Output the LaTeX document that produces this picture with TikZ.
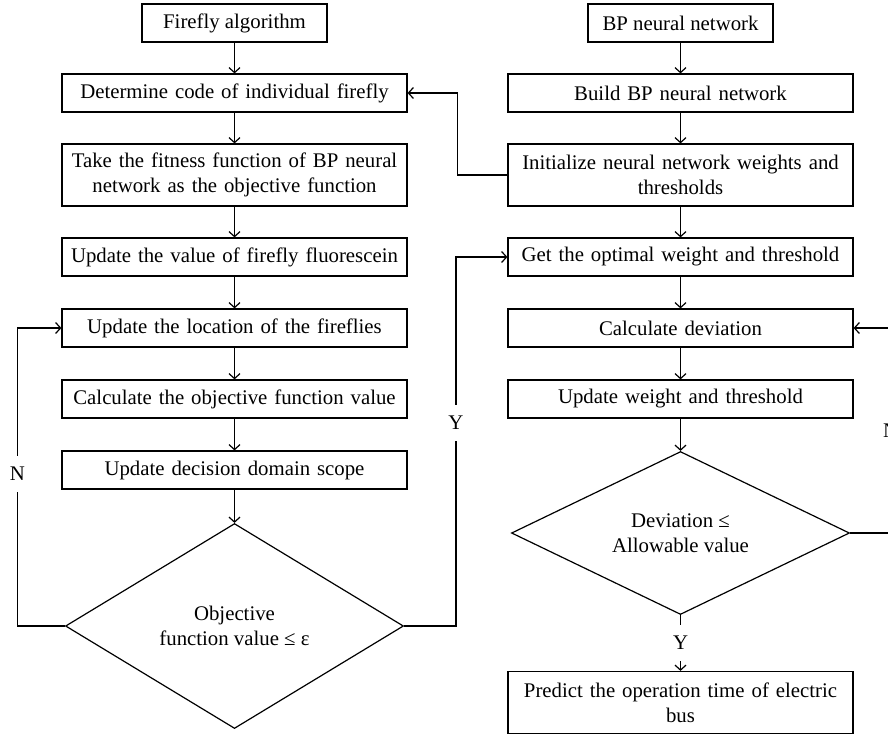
\documentclass[tikz,border=0pt]{standalone}
\usepackage{fontspec}
\setmainfont{Liberation Serif}
\usetikzlibrary{shapes.geometric,arrows.meta,positioning}
\begin{document}
\begin{tikzpicture}[x=0.5pt,y=-0.5pt,line width=0.6pt,font=\fontsize{10.4}{12.5}\selectfont,
	>={Straight Barb[length=2.5pt,width=5.5pt]}]
	\tikzstyle{rect1} = [rectangle,draw=black,minimum width=92.5pt,minimum height=19pt,
	inner sep=2pt,text centered]
	\tikzstyle{rect2} = [rectangle,draw=black,minimum width=172.5pt,minimum height=19pt,
	text width=168pt,inner xsep=2.25pt,inner ysep=3.25pt,text centered]
	\tikzstyle{dia} = [diamond,draw=black,aspect=1.65,inner sep=0pt,align=center,minimum width=169pt]
	\tikzstyle{lbl} = [fill=white,inner xsep=2pt,inner ysep=5.5pt]
	\useasboundingbox (0,0) rectangle (888,735);
	% firefly side
	\node (ff1) [rect1] at (234.5,23) {Firefly algorithm};
	\node (ff2) [rect2, below of=ff1, node distance=35pt] {Determine code of individual firefly};
	\node (ff3) [rect2, below of=ff2, node distance=41pt, minimum height=31pt] {Take the fitness function of BP neural\\network as the objective function};
	\node (ff4) [rect2, below of=ff3, node distance=41pt] {Update the value of firefly fluorescein};
	\node (ff5) [rect2, below of=ff4, node distance=35.5pt] {Update the location of the fireflies};
	\node (ff6) [rect2, below of=ff5, node distance=35.5pt] {Calculate the objective function value};
	\node (ff7) [rect2, below of=ff6, node distance=35.5pt] {Update decision domain scope};
	\node (ff8) [dia, below of=ff7, node distance=78pt, minimum height=102.5pt] {Objective\\function value ≤ ε};
	% BP side
	\node (bp1) [rect1, right of=ff1, node distance=223pt] {BP neural network};
	\node (bp2) [rect2, below of=bp1, node distance=35pt] {Build BP neural network};
	\node (bp3) [rect2, below of=bp2, node distance=41pt, minimum height=31pt] {Initialize neural network weights and\\thresholds};
	\node (bp4) [rect2, below of=bp3, node distance=41pt] {Get the optimal weight and threshold};
	\node (bp5) [rect2, below of=bp4, node distance=35.5pt] {Calculate deviation};
	\node (bp6) [rect2, below of=bp5, node distance=35.5pt] {Update weight and threshold};
	\node (bp7) [dia, below of=bp6, node distance=67pt, minimum height=81.5pt] {Deviation ≤\\Allowable value};
	\node (bp8) [rect2, below of=bp7, node distance=84.75pt, minimum height=31pt] {Predict the operation time of electric\\bus};
	\foreach \a/\b in {ff1/ff2,ff2/ff3,ff3/ff4,ff4/ff5,ff5/ff6,ff6/ff7,ff7/ff8,
		bp1/bp2,bp2/bp3,bp3/bp4,bp4/bp5,bp5/bp6,bp6/bp7}
		\draw[->] (\a) -- (\b);
	\draw[->] (bp7) -- node[lbl]{Y} (bp8);
	% loops
	\draw[->] (ff8.west) -| ([xshift=-22pt]ff5.west) node[lbl,pos=0.755]{N} -- (ff5.west);
	\draw[->] (ff8.east) -| ([xshift=-25.75pt]bp4.west) node[lbl,pos=0.775]{Y} -- (bp4.west);
	\draw[->] (bp3.west) -- ++(-25pt,0) |- (ff2.east);
	\draw[->] (bp7.east) -| ([xshift=18.5pt]bp5.east) node[lbl,pos=0.75]{N} -- (bp5.east);
\end{tikzpicture}
\end{document}
